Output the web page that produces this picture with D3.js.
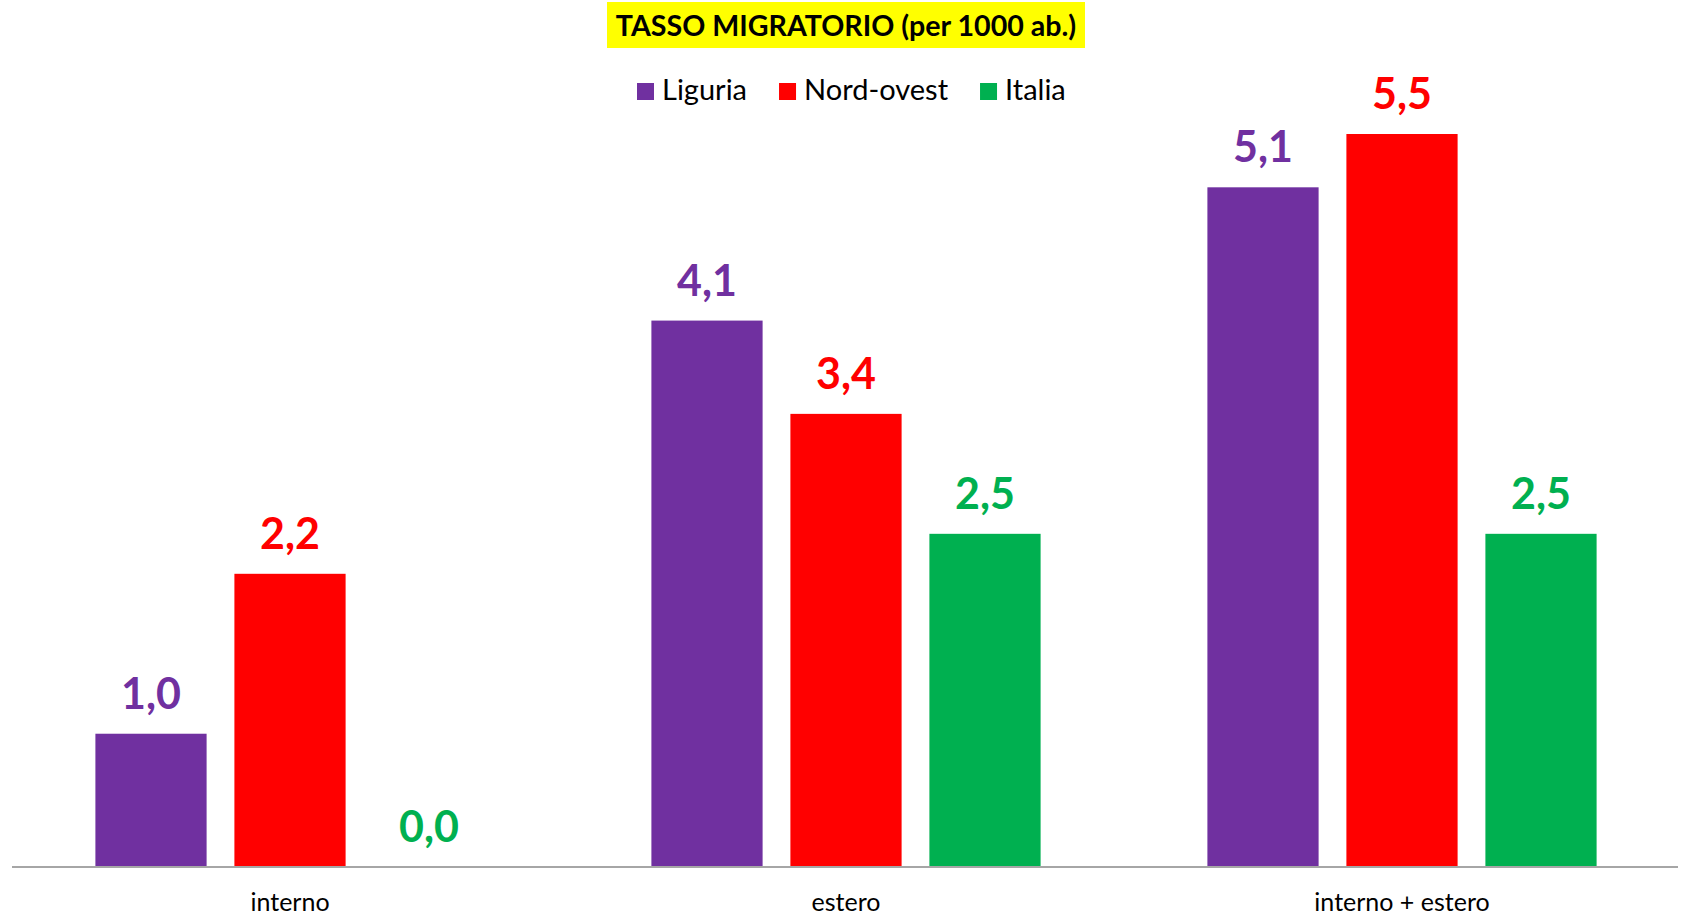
<!DOCTYPE html>
<html><head><meta charset="utf-8">
<script src="https://cdn.jsdelivr.net/npm/d3@7"></script>
<style>html,body{margin:0;padding:0;background:#fff;}svg{display:block;}</style>
</head><body>
<svg id="chart" width="1683" height="915"></svg>
<script>
const categories = ["interno", "estero", "interno + estero"];
const seriesNames = ["Liguria", "Nord-ovest", "Italia"];
const liguria = [1.0, 4.1, 5.1];
const nordOvest = [2.2, 3.4, 5.5];
const italia = [0.0, 2.5, 2.5];
const seriesColors = ["#7030A0", "#FF0000", "#00B050"];
const titleText = "TASSO MIGRATORIO (per 1000 ab.)";

const seriesValues = [liguria, nordOvest, italia];
const data = categories.map((c, i) => ({
  cat: c,
  vals: seriesNames.map((s, j) => ({ key: s, value: seriesValues[j][i], color: seriesColors[j] }))
}));

const svg = d3.select("#chart");
const FONT = "Lato, 'Open Sans', sans-serif";

const x0 = d3.scaleBand().domain(categories).range([12, 1680]).paddingInner(0.3).paddingOuter(0.15);
const x1 = d3.scaleBand().domain(seriesNames).range([0, x0.bandwidth()]).paddingInner(0.2).paddingOuter(0);
const y = d3.scaleLinear().domain([0, 5.5]).range([867, 134]);

// bars
const g = svg.append("g");
const groups = g.selectAll("g.grp").data(data).join("g")
  .attr("transform", d => `translate(${x0(d.cat)},0)`);
groups.selectAll("rect").data(d => d.vals).join("rect")
  .attr("x", d => x1(d.key))
  .attr("width", x1.bandwidth())
  .attr("y", d => y(d.value))
  .attr("height", d => y(0) - y(d.value))
  .attr("fill", d => d.color);
groups.selectAll("text.val").data(d => d.vals).join("text")
  .attr("class", "val")
  .attr("x", d => x1(d.key) + x1.bandwidth() / 2)
  .attr("y", d => y(d.value) - 25)
  .attr("text-anchor", "middle")
  .attr("font-family", FONT)
  .attr("font-weight", "bold")
  .attr("font-size", 43)
  .attr("fill", d => d.color)
  .text(d => d.value.toFixed(1).replace(".", ","));

// axis
const xAxis = d3.axisBottom(x0).tickSize(0).tickPadding(0);
const ax = svg.append("g").attr("transform", `translate(0,${y(0)})`).call(xAxis);
ax.select(".domain").attr("stroke", "#a6a6a6").attr("stroke-width", 2)
  .attr("d", `M12,0H1678`);
ax.selectAll(".tick text")
  .attr("y", 44)
  .attr("dy", 0)
  .attr("font-family", FONT)
  .attr("font-size", 25)
  .attr("fill", "#000");

// title
const tg = svg.append("g");
const tRect = tg.append("rect").attr("fill", "#FFFF00");
const tText = tg.append("text")
  .attr("x", 846).attr("y", 36)
  .attr("text-anchor", "middle")
  .attr("font-family", FONT)
  .attr("font-weight", "bold")
  .attr("font-size", 28.6)
  .attr("fill", "#000")
  .text(titleText);
tRect.attr("x", 607).attr("y", 2).attr("width", 478).attr("height", 46);

// legend
const lg = svg.append("g");
let lx = 637;
seriesNames.forEach((s, i) => {
  lg.append("rect").attr("x", lx).attr("y", 83).attr("width", 17).attr("height", 17).attr("fill", seriesColors[i]);
  const t = lg.append("text").attr("x", lx + 25).attr("y", 100)
    .attr("font-family", FONT).attr("font-size", 29).attr("fill", "#000").text(s);
  lx += 25 + t.node().getComputedTextLength() + 32;
});
</script>
</body></html>
